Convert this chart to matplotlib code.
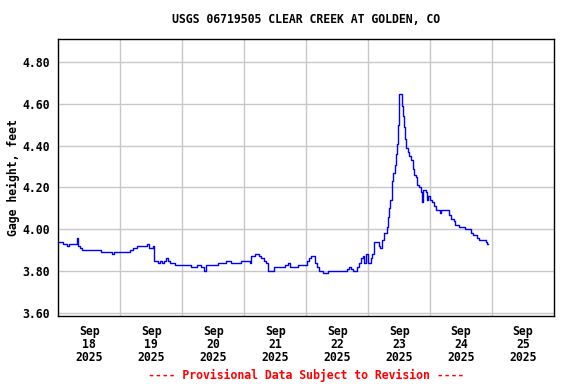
import matplotlib
matplotlib.use("Agg")
import matplotlib.pyplot as plt
import numpy as np
from datetime import datetime, timedelta

# gage readings, hours after 2025-09-18 00:00 and feet
hours = [0.0, 1.9, 3.4, 4.0, 7.1, 7.7, 8.5, 9.2, 16.7, 20.8, 21.6, 27.6, 28.8, 30.5,
         34.2, 35.0, 36.5, 36.9, 38.6, 39.4, 40.1, 41.0, 41.7, 42.4, 43.4, 45.2,
         51.5, 53.7, 55.2, 56.3, 57.2, 61.7, 64.9, 66.9, 70.7, 74.1, 74.6, 76.1,
         77.8, 78.5, 79.7, 80.4, 81.1, 81.3, 83.4, 87.8, 88.8, 89.8, 92.7, 96.5,
         97.2, 97.8, 99.4, 100.1, 100.8, 102.7, 104.3, 111.4, 112.0, 112.6, 113.3,
         114.2, 115.6, 116.5, 117.2, 117.9, 118.4, 119.1, 120.1, 121.0, 121.7,
         122.3, 123.6, 124.3, 124.7, 125.2, 126.2, 127.2, 127.7, 128.1, 128.5,
         129.1, 129.4, 129.8, 130.3, 130.7, 131.1, 131.6, 131.9, 132.1, 132.7,
         133.0, 133.6, 133.9, 134.3, 134.7, 135.3, 135.9, 136.5, 137.2, 137.8,
         138.5, 139.1, 139.8, 140.4, 140.8, 141.3, 142.3, 142.9, 143.1, 144.0,
         144.9, 145.6, 146.2, 147.9, 148.2, 151.4, 152.0, 153.1, 153.6, 155.2,
         157.4, 159.8, 160.8, 162.3, 163.0, 165.6, 166.0, 166.5]
gage = [3.94, 3.93, 3.92, 3.93, 3.96, 3.92, 3.91, 3.90, 3.89, 3.88, 3.89, 3.90, 3.91, 3.92,
        3.93, 3.91, 3.92, 3.85, 3.84, 3.85, 3.84, 3.85, 3.86, 3.85, 3.84, 3.83,
        3.82, 3.83, 3.82, 3.80, 3.83, 3.84, 3.85, 3.84, 3.85, 3.84, 3.87, 3.88,
        3.87, 3.86, 3.85, 3.84, 3.83, 3.80, 3.82, 3.83, 3.84, 3.82, 3.83, 3.85,
        3.86, 3.87, 3.84, 3.82, 3.80, 3.79, 3.80, 3.80, 3.81, 3.82, 3.81,
        3.80, 3.82, 3.84, 3.86, 3.87, 3.84, 3.88, 3.84, 3.86, 3.88,
        3.94, 3.94, 3.92, 3.91, 3.95, 3.98, 4.01, 4.06, 4.10, 4.14,
        4.17, 4.23, 4.27, 4.31, 4.36, 4.41, 4.50, 4.60, 4.65, 4.65,
        4.59, 4.54, 4.49, 4.43, 4.39, 4.37, 4.35, 4.33, 4.29, 4.26,
        4.25, 4.21, 4.20, 4.18, 4.13, 4.19, 4.18, 4.14, 4.16, 4.14,
        4.13, 4.11, 4.09, 4.08, 4.09, 4.07, 4.05, 4.04, 4.02, 4.01,
        4.00, 3.98, 3.97, 3.96, 3.95, 3.94, 3.93, 3.93]

start = datetime(2025, 9, 18)
days = [start + timedelta(days=i) for i in range(9)]
yticks = [3.60, 3.80, 4.00, 4.20, 4.40, 4.60, 4.80]

t = [start + timedelta(hours=h) for h in hours]

mono = "DejaVu Sans Mono"
fs = 8.3
fig = plt.figure(figsize=(5.76, 3.84), dpi=100)
ax = fig.add_axes([0.1012, 0.178, 0.8606, 0.7198])

ax.plot(t, gage, color="#0000ff", lw=1.0, drawstyle="steps-post")

ax.set_xlim(days[0], days[8])
ax.set_ylim(3.586, 4.91)

# labels at noon, grid at midnight
ax.set_xticks([d + timedelta(hours=12) for d in days[:8]])
ax.set_xticklabels([d.strftime("%b\n%d\n%Y") for d in days[:8]])
ax.set_xticks(days[1:8], minor=True)
ax.set_yticks(yticks)
ax.set_yticklabels(["%.2f" % v for v in yticks])

ax.grid(which="minor", axis="x", color="#c8c8c8", lw=1)
ax.grid(which="major", axis="y", color="#c8c8c8", lw=1)
ax.tick_params(which="both", length=0)
ax.tick_params(axis="x", pad=7)
ax.tick_params(axis="y", pad=6)
for lab in ax.get_xticklabels() + ax.get_yticklabels():
    lab.set_fontfamily(mono)
    lab.set_fontweight("bold")
    lab.set_fontsize(fs)
for lab in ax.get_xticklabels():
    lab.set_linespacing(1.0)
for s in ax.spines.values():
    s.set_linewidth(1)
ax.set_axisbelow(True)

ax.set_ylabel("Gage height, feet", fontfamily=mono, fontweight="bold", fontsize=fs)
ax.yaxis.set_label_coords(-0.078, 0.5)

fig.text(0.532, 0.948, "USGS 06719505 CLEAR CREEK AT GOLDEN, CO", ha="center", va="center",
         fontfamily=mono, fontweight="bold", fontsize=fs)
fig.text(0.532, 0.022, "---- Provisional Data Subject to Revision ----", ha="center",
         va="center", color="red", fontfamily=mono, fontweight="bold", fontsize=fs)

fig.savefig("out.png", dpi=100)
